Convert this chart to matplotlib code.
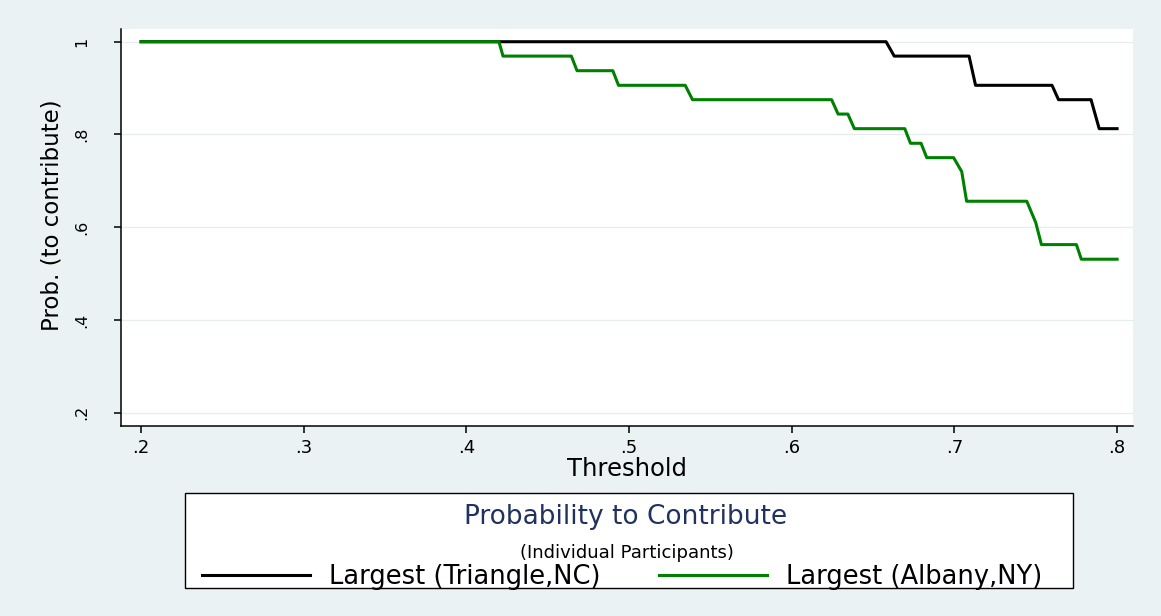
import matplotlib
matplotlib.use("Agg")
import matplotlib.pyplot as plt
from matplotlib.lines import Line2D
from matplotlib.patches import Rectangle

# Survival-style step curves: probability of contributing vs. threshold
triangle_threshold = [0.200, 0.658, 0.663, 0.709, 0.713, 0.760, 0.764, 0.784, 0.789, 0.800]
triangle_prob = [1.000, 1.000, 0.969, 0.969, 0.906, 0.906, 0.875, 0.875, 0.8125, 0.8125]

albany_threshold = [0.200, 0.420, 0.4225, 0.4645, 0.468, 0.490, 0.4935, 0.5345, 0.539,
                    0.6245, 0.6285, 0.6345, 0.6385, 0.6695, 0.673, 0.6795, 0.683,
                    0.6995, 0.7045, 0.7075, 0.7445, 0.750, 0.7535, 0.775, 0.778, 0.800]
albany_prob = [1.000, 1.000, 0.969, 0.969, 0.9375, 0.9375, 0.906, 0.906, 0.875,
               0.875, 0.844, 0.844, 0.8125, 0.8125, 0.781, 0.781, 0.750,
               0.750, 0.720, 0.656, 0.656, 0.610, 0.5625, 0.5625, 0.531, 0.531]

x_ticks = [0.2, 0.3, 0.4, 0.5, 0.6, 0.7, 0.8]
x_tick_labels = [".2", ".3", ".4", ".5", ".6", ".7", ".8"]
y_ticks = [0.2, 0.4, 0.6, 0.8, 1.0]
y_tick_labels = [".2", ".4", ".6", ".8", "1"]

series_labels = ["Largest (Triangle,NC)", "Largest (Albany,NY)"]
legend_title = "Probability to Contribute"
legend_subtitle = "(Individual Participants)"

BG = "#EAF2F3"
GREEN = "#008000"
NAVY = "#22325E"

plt.rcParams["font.family"] = ["DejaVu Sans"]

fig = plt.figure(figsize=(11.61, 6.16), dpi=100, facecolor=BG)
ax = fig.add_axes([0.104, 0.3084, 0.8719, 0.6445])
ax.set_facecolor("white")

ax.plot(triangle_threshold, triangle_prob, color="black", lw=2.2, zorder=3)
ax.plot(albany_threshold, albany_prob, color=GREEN, lw=2.2, zorder=4)

ax.set_xlim(0.1875, 0.8098)
ax.set_ylim(0.1713, 1.0274)

ax.set_xticks(x_ticks)
ax.set_xticklabels(x_tick_labels, fontsize=13)
ax.set_yticks(y_ticks)
ax.set_yticklabels(y_tick_labels, fontsize=11.5, rotation=90, va="center")

ax.tick_params(axis="x", length=5, width=1.1, pad=4.5, color="black")
ax.tick_params(axis="y", length=5, width=1.1, pad=18, color="black")

ax.grid(axis="y", color="#E6EDEE", lw=0.9, zorder=0)
ax.set_axisbelow(True)

for side in ("top", "right"):
    ax.spines[side].set_visible(False)
for side in ("left", "bottom"):
    ax.spines[side].set_linewidth(1.1)
    ax.spines[side].set_color("black")

ax.set_xlabel("Threshold", fontsize=17.5, labelpad=0)
ax.xaxis.set_label_coords(0.5, -0.078)
ax.set_ylabel("Prob. (to contribute)", fontsize=16.5)
ax.yaxis.set_label_coords(-0.057, 0.53)

# Legend panel below the plot
fig.patches.append(Rectangle((0.1593, 0.0455), 0.7649, 0.1542, transform=fig.transFigure,
                             facecolor="white", edgecolor="black", lw=1.0))
fig.text(0.539, 0.1607, legend_title, ha="center", va="center", fontsize=19, color=NAVY)
fig.text(0.540, 0.1015, legend_subtitle, ha="center", va="center", fontsize=13, color="black")

handles = [Line2D([], [], color="black", lw=2.2), Line2D([], [], color=GREEN, lw=2.2)]
fig.legend(handles, series_labels, loc="center", bbox_to_anchor=(0.5357, 0.0640),
           ncol=2, frameon=False, fontsize=18.5, handlelength=4.2, handletextpad=0.74,
           columnspacing=2.3, borderpad=0.0)

fig.savefig("out.png", dpi=100, facecolor=BG)
